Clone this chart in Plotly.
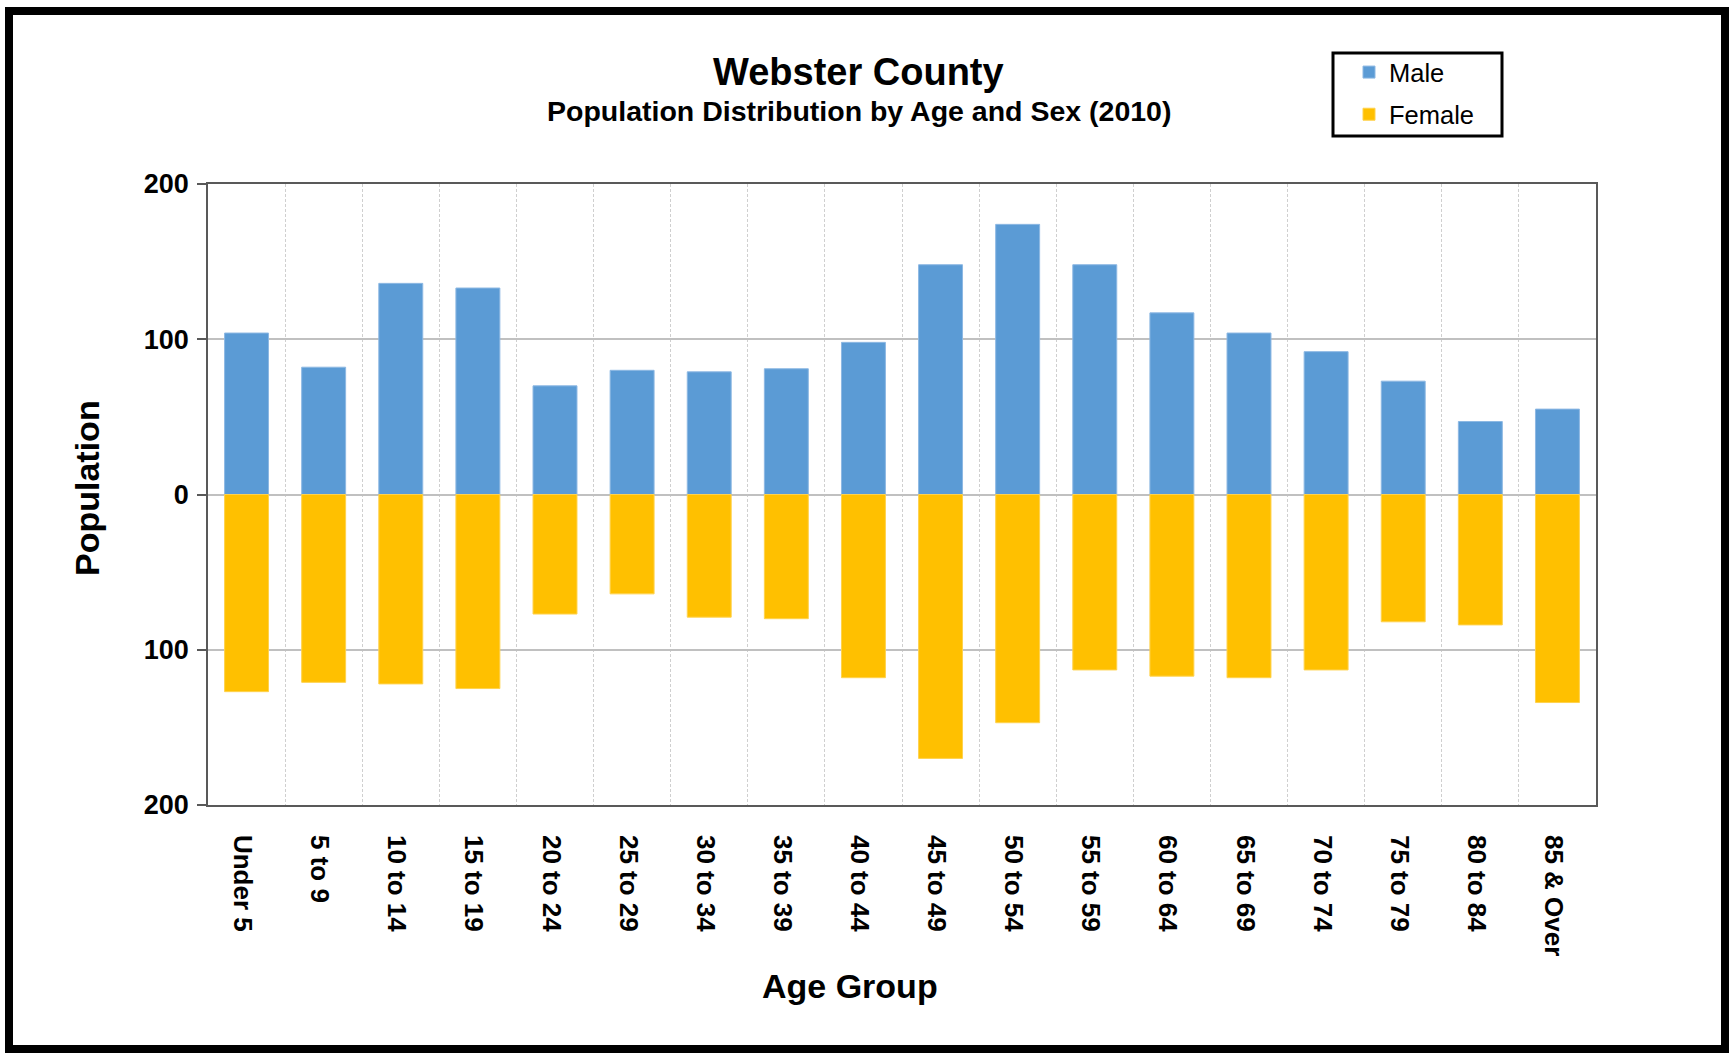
import plotly.graph_objects as go

age_groups = ["Under 5", "5 to 9", "10 to 14", "15 to 19", "20 to 24", "25 to 29",
              "30 to 34", "35 to 39", "40 to 44", "45 to 49", "50 to 54", "55 to 59",
              "60 to 64", "65 to 69", "70 to 74", "75 to 79", "80 to 84", "85 & Over"]
male = [104, 82, 136, 133, 70, 80, 79, 81, 98, 148, 174, 148, 117, 104, 92, 73, 47, 55]
female = [127, 121, 122, 125, 77, 64, 79, 80, 118, 170, 147, 113, 117, 118, 113, 82, 84, 134]
y_tickvals = [-200, -100, 0, 100, 200]
y_ticktext = ["200", "100", "0", "100", "200"]

W, H = 1729, 1053
L, R, T, B = 208, 1596, 184, 805


def px(x):
    return (x - L) / (R - L)


def py(y):
    return (B - y) / (B - T)


FONT = "Arial, 'Liberation Sans', sans-serif"

fig = go.Figure()
fig.add_trace(go.Bar(x=age_groups, y=male, name="Male", legendgroup="m",
                     marker=dict(color="#5B9BD5", line=dict(color="#8DB8E3", width=1))))
fig.add_trace(go.Bar(x=age_groups, y=[-v for v in female], name="Female", legendgroup="f",
                     marker=dict(color="#FFC000", line=dict(color="#FFD24D", width=1))))

fig.update_layout(
    width=W, height=H,
    margin=dict(l=L, r=W - R, t=T, b=H - B, autoexpand=False),
    paper_bgcolor="white", plot_bgcolor="white",
    barmode="relative", bargap=0.43,
    font=dict(family=FONT, color="black"),
    showlegend=True,
    legend=dict(x=px(1349), y=py(49), xanchor="left", yanchor="top",
                traceorder="grouped", tracegroupgap=6,
                font=dict(size=25.5, family=FONT, color="black"),
                bgcolor="rgba(0,0,0,0)", borderwidth=0),
    xaxis=dict(type="category", tickson="boundaries", showgrid=True,
               gridcolor="#CFCFCF", griddash="3px,2px", gridwidth=1.2,
               showline=True, mirror=True, linecolor="#595959", linewidth=1.5,
               ticks="", tickangle=90, ticklabelstandoff=23, ticklabelshift=-4,
               tickfont=dict(size=26, family=FONT, color="black", weight="bold"),
               zeroline=False, fixedrange=True),
    yaxis=dict(range=[-200, 200], tickvals=y_tickvals, ticktext=y_ticktext,
               showgrid=True, gridcolor="#C0C0C0", gridwidth=1.5,
               zeroline=True, zerolinecolor="#C0C0C0", zerolinewidth=1.5,
               showline=True, mirror=True, linecolor="#595959", linewidth=1.5,
               ticks="outside", ticklen=9, tickcolor="#595959", tickwidth=1.5,
               ticklabelstandoff=3,
               tickfont=dict(size=27, family=FONT, color="black", weight="bold"),
               fixedrange=True),
)

annotations = [
    dict(text="<b>Webster County</b>", x=px(858), y=py(72), font=dict(size=38)),
    dict(text="<b>Population Distribution by Age and Sex (2010)</b>", x=px(859), y=py(111),
         font=dict(size=28.5)),
    dict(text="<b>Population</b>", x=px(87), y=py(488), textangle=-90, font=dict(size=34)),
    dict(text="<b>Age Group</b>", x=px(850), y=py(986), font=dict(size=34)),
]
for a in annotations:
    a.update(xref="paper", yref="paper", xanchor="center", yanchor="middle",
             showarrow=False)
    a["font"].update(family=FONT, color="black")
fig.update_layout(annotations=annotations)

shapes = [
    # outer frame
    dict(type="rect", xref="paper", yref="paper", x0=px(9), x1=px(1725), y0=py(11), y1=py(1049),
         line=dict(color="black", width=8), fillcolor="rgba(0,0,0,0)", layer="above"),
    # legend box
    dict(type="rect", xref="paper", yref="paper", x0=px(1333), x1=px(1502), y0=py(53), y1=py(136),
         line=dict(color="black", width=3), fillcolor="rgba(0,0,0,0)", layer="above"),
]
fig.update_layout(shapes=shapes)

fig.write_html("out.html", config={"displayModeBar": False},
               post_script="document.body.style.margin='0';")
